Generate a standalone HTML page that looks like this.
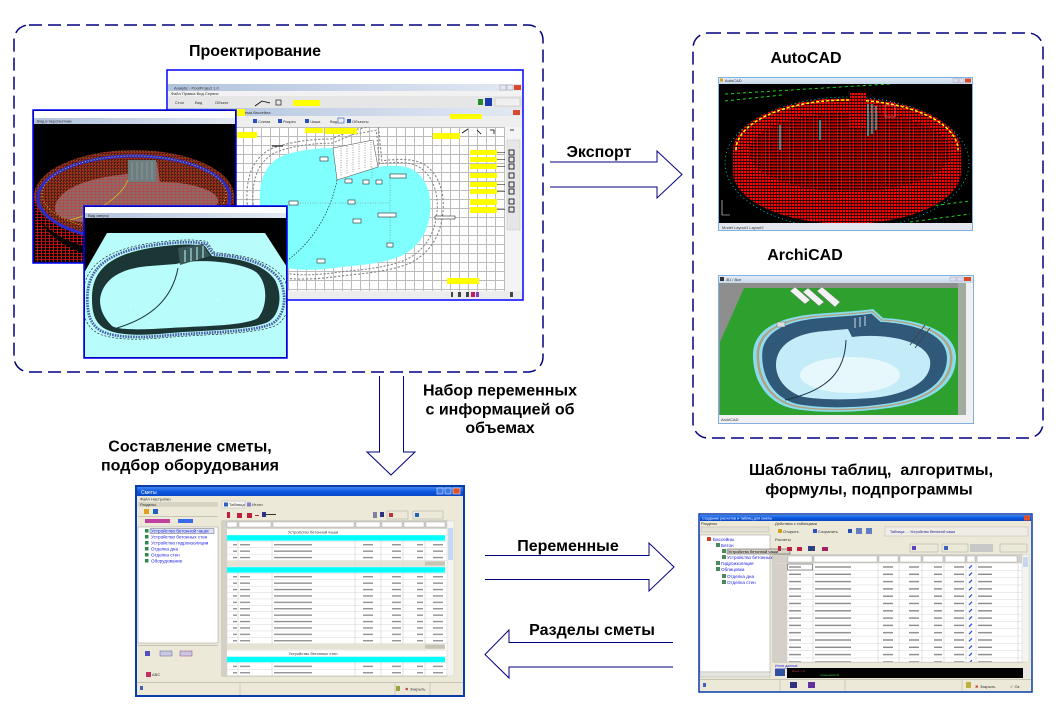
<!DOCTYPE html>
<html><head><meta charset="utf-8"><title>diagram</title>
<style>
html,body{margin:0;padding:0;background:#fff;width:1058px;height:718px;overflow:hidden}
svg{display:block}
.t{font-family:"Liberation Sans","DejaVu Sans",sans-serif;font-weight:bold;font-size:16px;fill:#000}
.m{font-family:"Liberation Sans","DejaVu Sans",sans-serif;font-size:4px;fill:#333}
.b{font-family:"Liberation Sans","DejaVu Sans",sans-serif;font-size:4.6px;fill:#1a1ae6}
</style></head><body>
<svg xmlns="http://www.w3.org/2000/svg" width="1058" height="718" viewBox="0 0 1058 718">
<defs>
<linearGradient id="tbG" x1="0" y1="0" x2="1" y2="0"><stop offset="0" stop-color="#b0c2dc"/><stop offset="1" stop-color="#e2e9f4"/></linearGradient>
<linearGradient id="tbG2" x1="0" y1="0" x2="0" y2="1"><stop offset="0" stop-color="#e8f0f8"/><stop offset="1" stop-color="#c8d8ea"/></linearGradient>
<linearGradient id="tbB" x1="0" y1="0" x2="0" y2="1"><stop offset="0" stop-color="#3f86f2"/><stop offset=".5" stop-color="#0c58e0"/><stop offset="1" stop-color="#0946c4"/></linearGradient>
<pattern id="grid" patternUnits="userSpaceOnUse" x="0" y="127" width="9" height="9"><path d="M0.5,0V9M0,0.5H9" stroke="#bcbcbc" stroke-width="1" fill="none"/></pattern>
<pattern id="rt" patternUnits="userSpaceOnUse" width="3" height="3"><rect width="3" height="3" fill="#f00"/><path d="M0,2.6H3M2.6,0V3" stroke="#000" stroke-width=".7"/></pattern>
<pattern id="rt2" patternUnits="userSpaceOnUse" width="4" height="3"><rect width="4" height="3" fill="#000"/><path d="M0,1.5H4M1.5,0V3" stroke="#e01010" stroke-width=".8"/></pattern>
<pattern id="bt" patternUnits="userSpaceOnUse" width="4" height="3"><rect width="4" height="3" fill="#8c6a68"/><path d="M0,2.6H4M3.6,0V3" stroke="#c04040" stroke-width=".6"/></pattern>
<pattern id="brk" patternUnits="userSpaceOnUse" width="3" height="3"><rect width="3" height="3" fill="#4a1a14"/><path d="M0,2.5H3M2.5,0V3" stroke="#c03020" stroke-width=".6"/><rect x="1" y="1" width=".6" height=".6" fill="#d0c020"/></pattern>
<pattern id="eRows" patternUnits="userSpaceOnUse" x="222" y="528.8" width="225" height="6.4">
 <rect width="225" height="6.4" fill="#fff"/>
 <path d="M0,6.2H225" stroke="#d6d6d6" stroke-width=".5"/>
 <path d="M5,0V6.4M16,0V6.4M50,0V6.4M133,0V6.4M159,0V6.4M181,0V6.4M203,0V6.4" stroke="#c8c8c8" stroke-width=".5"/>
 <rect x="0" y="0" width="5" height="6.4" fill="#d4d0c8"/>
 <rect x="11" y="2.5" width="4" height="1.3" fill="#8a8a8a"/>
 <rect x="18" y="2.5" width="10" height="1.3" fill="#8a8a8a"/>
 <rect x="52" y="2.5" width="38" height="1.3" fill="#8a8a8a"/>
 <rect x="141" y="2.5" width="10" height="1.3" fill="#8a8a8a"/>
 <rect x="170" y="2.5" width="9" height="1.3" fill="#8a8a8a"/>
 <rect x="195" y="2.5" width="6" height="1.3" fill="#8a8a8a"/>
 <rect x="211" y="2.5" width="10" height="1.3" fill="#8a8a8a"/>
</pattern>
<pattern id="tRows" patternUnits="userSpaceOnUse" x="773" y="563.3" width="250" height="7.3">
 <rect width="250" height="7.3" fill="#fff"/>
 <path d="M0,7.1H250" stroke="#d6d6d6" stroke-width=".5"/>
 <path d="M14,0V7.3M40,0V7.3M105,0V7.3M126,0V7.3M149,0V7.3M171,0V7.3M193,0V7.3M203,0V7.3M245,0V7.3" stroke="#c8c8c8" stroke-width=".5"/>
 <rect x="0" y="0" width="14" height="7.3" fill="#d4d0c8"/>
 <rect x="16" y="3" width="12" height="1.4" fill="#8a8a8a"/>
 <rect x="42" y="3" width="36" height="1.4" fill="#8a8a8a"/>
 <rect x="110" y="3" width="10" height="1.4" fill="#8a8a8a"/>
 <rect x="136" y="3" width="10" height="1.4" fill="#8a8a8a"/>
 <rect x="161" y="3" width="8" height="1.4" fill="#8a8a8a"/>
 <rect x="181" y="3" width="10" height="1.4" fill="#8a8a8a"/>
 <path d="M196,5L199,2" stroke="#2040e0" stroke-width="1.2"/>
 <rect x="205" y="3" width="14" height="1.4" fill="#8a8a8a"/>
</pattern>
<clipPath id="acClip"><rect x="719" y="84" width="253" height="139"/></clipPath>
<clipPath id="dkClip"><rect x="34" y="124" width="201" height="138"/></clipPath>
<clipPath id="ltClip"><rect x="85" y="218" width="201" height="139"/></clipPath>
<clipPath id="mcClip"><rect x="168" y="127" width="337" height="164"/></clipPath>
</defs>

<!-- dashed group boxes -->
<rect x="14" y="25" width="529" height="347" rx="15" fill="none" stroke="#000080" stroke-width="1.5" stroke-dasharray="13 6"/>
<rect x="693" y="33" width="350" height="405" rx="15" fill="none" stroke="#000080" stroke-width="1.5" stroke-dasharray="13 6"/>

<!-- ========== MAIN CAD WINDOW ========== -->
<g>
<rect x="167" y="70" width="356" height="230" fill="#fff"/>
<rect x="168" y="84" width="354" height="7" fill="url(#tbG)"/>
<text class="m" x="174" y="89.5">Analytic - PoolProject 1.0</text>
<rect x="500" y="85" width="6" height="5" fill="#e4e8f0" stroke="#889" stroke-width=".4"/>
<rect x="507" y="85" width="6" height="5" fill="#e4e8f0" stroke="#889" stroke-width=".4"/>
<rect x="514" y="85" width="7" height="5" fill="#d84a2a"/>
<rect x="168" y="91" width="354" height="5" fill="#f2f2f2"/>
<text class="m" x="171" y="95" font-size="3.5">Файл  Правка  Вид  Сервис</text>
<rect x="168" y="96" width="354" height="12" fill="#e6e6e6"/>
<text class="m" x="175" y="104">Стол</text><text class="m" x="195" y="104">Вид</text><text class="m" x="215" y="104">Объект</text>
<path d="M255,106 L262,101 L270,103" stroke="#000" stroke-width=".8" fill="none"/>
<rect x="276" y="100" width="5" height="5" fill="none" stroke="#000" stroke-width=".6"/>
<rect x="293" y="100" width="27" height="6" fill="#ffff00"/>
<rect x="478" y="99" width="5" height="6" fill="#2a8a2a"/><rect x="485" y="98" width="7" height="8" fill="#1a3ab0"/>
<rect x="495" y="98" width="25" height="8" fill="#f0f0f0" stroke="#aaa" stroke-width=".4"/>
<rect x="168" y="108" width="354" height="8" fill="url(#tbG)"/>
<text class="m" x="240" y="114">Схема бассейна</text>
<rect x="513" y="110" width="7" height="5" fill="#d84a2a"/>
<rect x="168" y="116" width="354" height="11" fill="#eeeeee"/>
<rect x="253" y="119" width="4" height="4" fill="#2850c0"/><text class="m" x="258" y="123">Схема</text>
<rect x="278" y="119" width="4" height="4" fill="#2850c0"/><text class="m" x="283" y="123">Разрез</text>
<rect x="305" y="119" width="4" height="4" fill="#2850c0"/><text class="m" x="310" y="123">Чаша</text>
<text class="m" x="330" y="123">Вид</text><rect x="338" y="118" width="6" height="5" fill="none" stroke="#2850c0" stroke-width=".6"/>
<rect x="347" y="119" width="4" height="4" fill="#2850c0"/><text class="m" x="352" y="123">Объекты</text>
<rect x="218" y="109" width="27" height="7" fill="#ffff00"/>
<rect x="168" y="127" width="337" height="164" fill="url(#grid)"/>
<g clip-path="url(#mcClip)">
<g fill="none" stroke="#8a8a8a" stroke-width="1" stroke-dasharray="2 1.5">
<path transform="translate(345,208) scale(1.08) translate(-345,-208)" d="M260,205 C258,180 266,163 282,156 C298,150 318,148 333,148 L352,140 L374,136 L377,167 C392,165 407,165 415,171 C428,180 432,198 430,213 C428,233 418,248 401,256 C385,263 362,265 342,267 C322,270 302,271 287,268 C268,262 262,232 260,205 Z"/>
<path transform="translate(345,208) scale(1.15) translate(-345,-208)" d="M260,205 C258,180 266,163 282,156 C298,150 318,148 333,148 L352,140 L374,136 L377,167 C392,165 407,165 415,171 C428,180 432,198 430,213 C428,233 418,248 401,256 C385,263 362,265 342,267 C322,270 302,271 287,268 C268,262 262,232 260,205 Z"/>
</g>
<path d="M260,205 C258,180 266,163 282,156 C298,150 318,148 333,148 L337,180 L377,167 C392,165 407,165 415,171 C428,180 432,198 430,213 C428,233 418,248 401,256 C385,263 362,265 342,267 C322,270 302,271 287,268 C268,262 262,232 260,205 Z" fill="#80ffff"/>
<polygon points="333,148 373,140 378,167 337,180" fill="#fff" stroke="#444" stroke-width=".5"/>
<g stroke="#333" stroke-width=".6" stroke-dasharray=".8 1.6"><path d="M341,148V176M347,146V174M353,145V172M359,144V170M365,143V169M371,142V168"/></g>
<path d="M337,180 C330,215 310,245 285,262" stroke="#000" stroke-width=".6" stroke-dasharray="1.5 1.5" fill="none"/>
<path d="M290,203H390M372,167V180M390,175V245" stroke="#666" stroke-width=".5" stroke-dasharray="1 1.5" fill="none"/>
<g fill="#fff" stroke="#000" stroke-width=".5">
<rect x="320" y="157" width="8" height="4"/><rect x="345" y="179" width="7" height="4"/><rect x="363" y="180" width="6" height="4"/><rect x="376" y="180" width="6" height="4"/>
<rect x="390" y="174" width="16" height="4"/><rect x="289" y="201" width="9" height="4"/><rect x="348" y="200" width="7" height="4"/>
<rect x="378" y="213" width="18" height="4"/><rect x="353" y="219" width="8" height="4"/><rect x="387" y="243" width="6" height="4"/><rect x="317" y="259" width="8" height="4"/>
<rect x="435" y="216" width="20" height="3"/>
</g>
<path d="M272,146H283" stroke="#000" stroke-width="1"/>
</g>
<g fill="#ffff00">
<rect x="237" y="132" width="20" height="6"/><rect x="305" y="128" width="18" height="5"/><rect x="325" y="128" width="32" height="6"/>
<rect x="450" y="114" width="32" height="5"/><rect x="433" y="133" width="27" height="6"/>
<rect x="470" y="150" width="27" height="5"/><rect x="470" y="157" width="27" height="5"/><rect x="470" y="164" width="27" height="5"/><rect x="470" y="173" width="27" height="5"/>
<rect x="470" y="182" width="27" height="5"/><rect x="470" y="189" width="27" height="5"/><rect x="470" y="199" width="27" height="6"/><rect x="470" y="207" width="27" height="6"/>
<rect x="447" y="278" width="32" height="6"/>
</g>
<g stroke="#000" stroke-width=".5">
<path d="M497,152.5H509M497,159.5H509M497,166.5H509M497,184.5H509M497,191.5H509M497,209.5H509"/>
</g>
<rect x="505" y="127" width="17" height="164" fill="#f4f4f4"/>
<rect x="507" y="140" width="13" height="90" fill="#e6e6e6" stroke="#bbb" stroke-width=".4"/>
<g fill="none" stroke="#000" stroke-width=".8">
<rect x="509" y="150" width="5" height="5"/><rect x="509" y="157" width="5" height="5"/><rect x="509" y="164" width="5" height="5"/><rect x="509" y="173" width="5" height="5"/>
<rect x="509" y="182" width="5" height="5"/><rect x="509" y="189" width="5" height="5"/><rect x="509" y="199" width="5" height="5"/><rect x="509" y="207" width="5" height="5"/>
<path d="M462,133l6,-4 M477,130l4,4 M490,130h4v4 M510,130h4"/>
</g>
<rect x="168" y="291" width="354" height="8" fill="#ececec"/>
<g fill="#444"><rect x="451" y="292" width="2" height="5"/><rect x="458" y="292" width="3" height="5"/><rect x="466" y="292" width="3" height="5"/><rect x="471" y="292" width="4" height="5" fill="#c02060"/><rect x="476" y="292" width="3" height="5" fill="#8040c0"/><rect x="510" y="292" width="3" height="5"/></g>
<rect x="167" y="70" width="356" height="230" fill="none" stroke="#0000ff" stroke-width="1.5"/>
</g>

<!-- ========== DARK 3D WINDOW ========== -->
<g>
<rect x="33" y="110" width="203" height="153" fill="#000"/>
<rect x="34" y="111" width="201" height="7" fill="#fff"/>
<rect x="34" y="118" width="201" height="6" fill="url(#tbG)"/>
<text class="m" x="37" y="122.5" font-size="3.5">Вид в перспективе</text>
<g clip-path="url(#dkClip)">
<path d="M35,205 C40,235 70,252 110,262 L35,262 Z" fill="url(#rt2)"/>
<ellipse cx="134" cy="203" rx="100" ry="50" fill="url(#rt2)"/>
<ellipse cx="134" cy="196" rx="100" ry="46" fill="url(#brk)"/>
<ellipse cx="134" cy="198" rx="96" ry="42" fill="none" stroke="#2a2ad0" stroke-width="3"/>
<ellipse cx="134" cy="194" rx="92" ry="38" fill="none" stroke="#d0c020" stroke-width="1" stroke-dasharray="1 2"/>
<path d="M55,210 C55,190 85,178 128,174 L135,162 L157,162 L160,182 C195,182 220,192 218,202 C215,215 180,222 140,224 C95,226 57,222 55,210 Z" fill="url(#bt)"/>
<rect x="128" y="160" width="28" height="22" fill="#6e7e80"/>
<path d="M132,162V180M137,162V180M142,162V180M147,162V180M152,162V180" stroke="#909c9c" stroke-width=".8"/>
<path d="M128,180 C120,200 90,215 70,220" stroke="#d0c020" stroke-width=".8" fill="none"/>
</g>
<rect x="33" y="110" width="203" height="153" fill="none" stroke="#0000ff" stroke-width="1.5"/>
</g>

<!-- ========== LIGHT POOL WINDOW ========== -->
<g>
<rect x="84" y="206" width="203" height="152" fill="#000"/>
<rect x="85" y="207" width="201" height="6" fill="#fff"/>
<rect x="85" y="213" width="201" height="5" fill="url(#tbG)"/>
<text class="m" x="88" y="217" font-size="3.5">Вид сверху</text>
<g clip-path="url(#ltClip)">
<polygon points="107,233 265,233 287,267 287,358 84,358 84,273" fill="#b8fcfc"/>
<path transform="translate(185,290) scale(1.1) translate(-185,-290)" d="M92,298 C92,270 110,255 150,248 C170,245 190,243 205,246 L212,256 C235,258 262,262 275,280 C283,295 280,315 268,322 C250,330 210,330 170,333 C140,336 110,336 100,325 C93,318 92,308 92,298 Z" fill="none" stroke="#222" stroke-width=".6" stroke-dasharray="2 1.5"/>
<path transform="translate(185,290) scale(1.05) translate(-185,-290)" d="M92,298 C92,270 110,255 150,248 C170,245 190,243 205,246 L212,256 C235,258 262,262 275,280 C283,295 280,315 268,322 C250,330 210,330 170,333 C140,336 110,336 100,325 C93,318 92,308 92,298 Z" fill="none" stroke="#4a5aa0" stroke-width="2.6" stroke-dasharray="1.5 1"/>
<path d="M92,298 C92,270 110,255 150,248 C170,245 190,243 205,246 L212,256 C235,258 262,262 275,280 C283,295 280,315 268,322 C250,330 210,330 170,333 C140,336 110,336 100,325 C93,318 92,308 92,298 Z" fill="#1c3636"/>
<path d="M100,300 C102,280 120,268 150,266 L176,264 C200,258 240,262 256,272 C268,282 268,306 258,318 C245,326 200,326 170,328 C140,330 118,330 112,326 C104,318 100,310 100,300 Z" fill="#b8fcfc"/>
<polygon points="178,248 203,244 210,256 180,265" fill="#3a5656"/>
<path d="M185,250V262M191,248V261M197,247V260M203,246V258" stroke="#b8fcfc" stroke-width="1"/>
<path d="M117,328 C150,318 172,300 178,268" stroke="#1c3636" stroke-width="1" fill="none"/>
<g fill="#fff"><rect x="130" y="305" width="1" height="1"/><rect x="217" y="300" width="1" height="1"/><rect x="200" y="320" width="1" height="1"/><rect x="150" y="322" width="1" height="1"/></g>
</g>
<rect x="84" y="206" width="203" height="152" fill="none" stroke="#0000ff" stroke-width="1.5"/>
</g>

<!-- ========== AUTOCAD ========== -->
<g>
<rect x="718" y="77" width="255" height="154" fill="#000"/>
<rect x="718" y="77" width="255" height="7" fill="url(#tbG2)"/>
<rect x="720" y="78.5" width="3" height="3" fill="#e0a020"/>
<text class="m" x="725" y="82" font-size="3.5">AutoCAD</text>
<rect x="953" y="78.5" width="5" height="4" fill="#dde" stroke="#889" stroke-width=".3"/><rect x="959" y="78.5" width="5" height="4" fill="#dde" stroke="#889" stroke-width=".3"/><rect x="965" y="78.5" width="6" height="4" fill="#d84a2a"/>
<g clip-path="url(#acClip)">
<path d="M725,94 L890,84 M725,101 L782,95 M870,214 L970,201 M910,222 L970,214" stroke="#20d020" stroke-width="1" stroke-dasharray="3 3"/>
<ellipse cx="847" cy="163" rx="122" ry="66" fill="none" stroke="#00e0e0" stroke-width=".8" stroke-dasharray="1 3"/>
<ellipse cx="847" cy="172" rx="114" ry="52" fill="url(#rt)"/>
<rect x="733" y="150" width="228" height="22" fill="url(#rt)"/>
<ellipse cx="847" cy="150" rx="114" ry="52" fill="url(#rt)"/>
<ellipse cx="850" cy="152" rx="101" ry="40" fill="url(#rt2)" opacity=".5"/>
<path d="M736,150 A111,50 0 0 1 958,150" stroke="#ffff00" stroke-width="1.5" stroke-dasharray="3 2" fill="none"/>
<rect x="850" y="93" width="16" height="35" fill="url(#rt)"/>
<path d="M868,104V136M872,104V134M876,106V130M820,120V140M780,125V150" stroke="#00f0f0" stroke-width="1.2"/>
<rect x="885" y="105" width="10" height="12" fill="none" stroke="#ff8080" stroke-width=".6"/>
<path d="M722,200V215H730" stroke="#fff" stroke-width=".6" fill="none"/>
</g>
<rect x="718" y="223" width="255" height="8" fill="#e4e8ee"/>
<text class="m" x="722" y="229" font-size="3">Model  Layout1  Layout2</text>
<rect x="718.5" y="77.5" width="254" height="153" fill="none" stroke="#80b0e0" stroke-width="1"/>
</g>

<!-- ========== ARCHICAD ========== -->
<g>
<rect x="718" y="275" width="256" height="149" fill="#8e8e8e"/>
<rect x="718" y="275" width="256" height="8" fill="url(#tbG2)"/>
<rect x="720" y="277" width="4" height="4" fill="#333"/>
<text class="m" x="726" y="281" font-size="3.5">3D / Все</text>
<rect x="950" y="277" width="6" height="4" fill="#dde" stroke="#889" stroke-width=".3"/><rect x="957" y="277" width="6" height="4" fill="#dde" stroke="#889" stroke-width=".3"/><rect x="964" y="277" width="7" height="4" fill="#d84a2a"/>
<polygon points="744,288 958,288 958,415 720,415 720,342" fill="#2ea02e"/>
<rect x="958" y="283" width="8" height="132" fill="#a0aca0"/>
<rect x="966" y="283" width="7" height="132" fill="#f0f0f0"/>
<g fill="#f2f2f2" stroke="#777" stroke-width=".5">
<polygon points="790,291 795,287 810,300 805,304"/>
<polygon points="803,292 808,288 824,302 819,306"/>
<polygon points="817,291 822,287 840,302 835,307"/>
</g>
<path d="M753,355 C753,333 772,318 815,314 C840,312 860,311 873,309 L883,318 C925,320 955,333 956,356 C957,382 935,400 895,407 C865,412 825,414 795,409 C768,404 753,382 753,355 Z" fill="#88dcee"/>
<path transform="translate(855,361) scale(.965) translate(-855,-361)" d="M753,355 C753,333 772,318 815,314 C840,312 860,311 873,309 L883,318 C925,320 955,333 956,356 C957,382 935,400 895,407 C865,412 825,414 795,409 C768,404 753,382 753,355 Z" fill="#b4a07c"/>
<path transform="translate(855,361) scale(.94) translate(-855,-361)" d="M753,355 C753,333 772,318 815,314 C840,312 860,311 873,309 L883,318 C925,320 955,333 956,356 C957,382 935,400 895,407 C865,412 825,414 795,409 C768,404 753,382 753,355 Z" fill="#90dcf0"/>
<path transform="translate(855,361) scale(.91) translate(-855,-361)" d="M753,355 C753,333 772,318 815,314 C840,312 860,311 873,309 L883,318 C925,320 955,333 956,356 C957,382 935,400 895,407 C865,412 825,414 795,409 C768,404 753,382 753,355 Z" fill="#305878"/>
<path d="M776,365 C776,345 795,333 825,331 L848,329 L852,337 C885,333 925,340 930,360 C933,382 905,395 872,398 C845,400 815,400 800,396 C785,390 776,378 776,365 Z" fill="#c4ecf8"/>
<ellipse cx="850" cy="375" rx="50" ry="18" fill="#e6f8fc"/>
<path d="M785,400 C830,390 845,370 846,340" stroke="#1c3448" stroke-width="1" fill="none"/>
<path d="M910,345 L925,325 M915,348 L930,328" stroke="#444" stroke-width="1"/>
<path d="M855,318V328M860,317V327M865,316V326" stroke="#cde" stroke-width="1"/>
<rect x="777" y="322" width="8" height="5" fill="#ddd" stroke="#555" stroke-width=".4"/>
<rect x="718" y="415" width="256" height="9" fill="#f0f0f0"/>
<text class="m" x="721" y="421" font-size="3">ArchiCAD</text>
<rect x="718.5" y="275.5" width="255" height="148" fill="none" stroke="#80b0e0" stroke-width="1"/>
</g>

<!-- ========== ESTIMATE WINDOW ========== -->
<g>
<rect x="136" y="486" width="328" height="210" fill="#ece9d8"/>
<rect x="137" y="487" width="326" height="9" fill="url(#tbB)"/>
<text x="141" y="494" font-size="5" fill="#fff" font-family="Liberation Sans,sans-serif">Сметы</text>
<rect x="437" y="488" width="6" height="6" fill="#3a7ae8" stroke="#fff" stroke-width=".5"/>
<rect x="445" y="488" width="6" height="6" fill="#3a7ae8" stroke="#fff" stroke-width=".5"/>
<rect x="453" y="488" width="7" height="6" fill="#e0502a" stroke="#fff" stroke-width=".5"/>
<text class="m" x="140" y="500.5" font-size="3.5">Файл  Настройки</text>
<rect x="138" y="502" width="80" height="5" fill="#d8d4c4"/>
<text class="m" x="140" y="506" font-size="3.5">Разделы</text>
<rect x="144" y="509" width="5" height="5" fill="#e0a020"/><rect x="153" y="509" width="5" height="5" fill="#2060c0"/>
<rect x="138" y="516" width="80" height=".6" fill="#b0ac9c"/>
<rect x="145" y="519" width="25" height="4" fill="#c040a0"/>
<rect x="178" y="519" width="15" height="4" fill="#3a6ae8"/>
<rect x="138" y="527" width="80" height="116" fill="#fff" stroke="#9a9a9a" stroke-width=".5"/>
<rect x="150" y="528.8" width="64" height="4.6" fill="#dde4f8" stroke="#334" stroke-width=".4"/>
<g fill="#2a8a4a"><rect x="145" y="529" width="3.5" height="3.5"/><rect x="145" y="535" width="3.5" height="3.5"/><rect x="145" y="541" width="3.5" height="3.5"/><rect x="145" y="547" width="3.5" height="3.5"/><rect x="145" y="553" width="3.5" height="3.5"/><rect x="145" y="559" width="3.5" height="3.5"/></g>
<text class="b" x="151" y="532.6">Устройство бетонной чаши</text>
<text class="b" x="151" y="538.6">Устройство бетонных стен</text>
<text class="b" x="151" y="544.6">Устройство гидроизоляции</text>
<text class="b" x="151" y="550.6">Отделка дна</text>
<text class="b" x="151" y="556.6">Отделка стен</text>
<text class="b" x="151" y="562.6">Оборудование</text>
<rect x="138" y="645" width="80" height=".6" fill="#b0ac9c"/>
<rect x="145" y="651" width="5" height="5" fill="#5050c0"/><rect x="160" y="651" width="12" height="5" fill="#c8c8e0" stroke="#6060a0" stroke-width=".5"/><rect x="180" y="651" width="12" height="5" fill="#c8c8e0" stroke="#a04080" stroke-width=".5"/>
<rect x="146" y="672" width="5" height="5" fill="#c03060"/><text class="m" x="152" y="676">ABC</text>
<rect x="222" y="501" width="23" height="7" fill="#f6f4ee" stroke="#aaa" stroke-width=".4"/>
<rect x="224" y="502.5" width="4" height="4" fill="#3060c0"/><text class="m" x="229" y="506" font-size="3.5">Таблица</text>
<rect x="247" y="502.5" width="4" height="4" fill="#8080d0"/><text class="m" x="252" y="506" font-size="3.5">Итоги</text>
<g fill="#c02040"><rect x="227" y="512" width="3" height="6"/><rect x="237" y="513" width="5" height="5"/><rect x="247" y="513" width="5" height="5"/><rect x="255" y="515" width="4" height="1"/></g>
<rect x="262" y="512" width="4" height="5" fill="#303080"/><rect x="266" y="514" width="10" height="1" fill="#333"/>
<rect x="373" y="512" width="4" height="6" fill="#8080a0"/><rect x="380" y="512" width="4" height="5" fill="#303080"/>
<rect x="387" y="511" width="21" height="8" fill="none" stroke="#999" stroke-width=".4"/><rect x="389" y="513" width="4" height="4" fill="#c03030"/>
<rect x="413" y="511" width="30" height="8" fill="none" stroke="#999" stroke-width=".4"/><rect x="415" y="513" width="4" height="4" fill="#2060c0"/>
<rect x="222" y="521" width="225" height="155" fill="#fff" stroke="#888" stroke-width=".5"/>
<rect x="222" y="528.8" width="225" height="147" fill="url(#eRows)"/>
<rect x="222" y="521" width="225" height="7.8" fill="#d4d0c8"/>
<g fill="#fff" stroke="#888" stroke-width=".3"><rect x="227" y="522" width="10" height="5"/><rect x="239" y="522" width="32" height="5"/><rect x="273" y="522" width="81" height="5"/><rect x="356" y="522" width="24" height="5"/><rect x="382" y="522" width="20" height="5"/><rect x="404" y="522" width="20" height="5"/><rect x="426" y="522" width="19" height="5"/></g>
<rect x="227" y="529" width="218" height="6" fill="#fff"/>
<text class="m" x="313" y="533.5" text-anchor="middle" font-size="3.5">Устройство бетонной чаши</text>
<rect x="227" y="535.2" width="218" height="5.4" fill="#00ffff"/>
<rect x="227" y="560.8" width="218" height="5.6" fill="#e6e2d4"/>
<rect x="425" y="561.5" width="20" height="4" fill="#c8c4b4"/>
<rect x="227" y="567.2" width="218" height="5.4" fill="#00ffff"/>
<rect x="227" y="644" width="218" height="5.6" fill="#e6e2d4"/>
<rect x="425" y="644.7" width="20" height="4" fill="#c8c4b4"/>
<rect x="227" y="650.4" width="218" height="6" fill="#fff"/>
<text class="m" x="313" y="655" text-anchor="middle" font-size="3.5">Устройство бетонных стен</text>
<rect x="227" y="656.8" width="218" height="5.4" fill="#00ffff"/>
<rect x="447" y="521" width="7" height="155" fill="#f4f4f0" stroke="#bbb" stroke-width=".3"/>
<rect x="448" y="528" width="5" height="32" fill="#c8d8f0"/>
<rect x="137" y="682" width="326" height=".6" fill="#b0ac9c"/>
<path d="M240,683V695M395,683V695M430,683V695" stroke="#b0ac9c" stroke-width=".5"/>
<rect x="140" y="686" width="3" height="4" fill="#4060c0"/>
<rect x="396" y="686" width="4" height="5" fill="#a0a040"/>
<text x="405" y="690.5" font-size="4" fill="#c02020" font-family="Liberation Sans,sans-serif">✖</text><text class="m" x="410" y="690.5">Закрыть</text>
<rect x="136" y="486" width="328" height="210" fill="none" stroke="#0a3ca8" stroke-width="2"/>
</g>

<!-- ========== TEMPLATES WINDOW ========== -->
<g>
<rect x="699" y="514" width="333" height="178" fill="#ece9d8"/>
<rect x="700" y="515" width="331" height="6" fill="url(#tbB)"/>
<text x="702" y="519.5" font-size="3.8" fill="#fff" font-family="Liberation Sans,sans-serif">Создание расчетов и таблиц для сметы</text>
<rect x="1024" y="515.5" width="6" height="5" fill="#e0502a"/>
<text class="m" x="701" y="525" font-size="3.2">Разделы</text>
<rect x="701" y="527" width="68" height="5" fill="#e4e1d4" stroke="#aaa" stroke-width=".4"/>
<rect x="700" y="535" width="70" height="137" fill="#fff" stroke="#9a9a9a" stroke-width=".5"/>
<rect x="707" y="537" width="4" height="4" fill="#d04020"/>
<g fill="#4a8a5a"><rect x="716" y="543" width="4" height="4"/><rect x="722" y="549" width="4" height="4"/><rect x="722" y="555" width="4" height="4"/><rect x="716" y="561" width="4" height="4"/><rect x="716" y="567" width="4" height="4"/><rect x="722" y="574" width="4" height="4"/><rect x="722" y="580" width="4" height="4"/></g>
<text class="b" x="713" y="541" font-size="4">Бассейны</text>
<text class="b" x="721" y="547" font-size="4">Бетон</text>
<rect x="727" y="549" width="63" height="5" fill="#d8d4c8" stroke="#222" stroke-width=".4"/>
<text x="728" y="553" font-size="4" fill="#000" font-family="Liberation Sans,sans-serif">Устройство бетонной чаши</text>
<text class="b" x="727" y="559" font-size="4">Устройство бетонных</text>
<text class="b" x="721" y="565" font-size="4">Гидроизоляция</text>
<text class="b" x="721" y="571" font-size="4">Облицовка</text>
<text class="b" x="727" y="578" font-size="4">Отделка дна</text>
<text class="b" x="727" y="584" font-size="4">Отделка стен</text>
<rect x="700" y="672" width="70" height="5" fill="#e4e4e0" stroke="#aaa" stroke-width=".4"/>
<text class="m" x="775" y="525" font-size="3.2">Действия с таблицами</text>
<rect x="778" y="529" width="4" height="4" fill="#d0a020"/><text class="m" x="783" y="533" font-size="3.5">Открыть</text>
<rect x="813" y="529" width="4" height="4" fill="#3050c0"/><text class="m" x="818" y="533" font-size="3.5">Сохранить</text>
<rect x="848" y="529" width="4" height="4" fill="#2050b0"/><rect x="856" y="528" width="6" height="6" fill="#6080c0"/><rect x="866" y="528" width="6" height="6" fill="#6080c0"/>
<rect x="885" y="527" width="143" height="9" fill="#f0eee4" stroke="#aaa" stroke-width=".4"/>
<text x="890" y="533" font-size="3.6" fill="#1a1a9a" font-family="Liberation Sans,sans-serif">Таблица: ... Устройство бетонной чаши</text>
<text class="m" x="775" y="541" font-size="3.2">Расчеты</text>
<g fill="#c02040"><rect x="778" y="546" width="3" height="5"/><rect x="787" y="547" width="5" height="4"/><rect x="797" y="547" width="5" height="4"/></g>
<rect x="808" y="546" width="7" height="5" fill="#304080"/><rect x="822" y="547" width="6" height="4" fill="#a02060"/>
<rect x="910" y="544" width="28" height="8" fill="none" stroke="#999" stroke-width=".4"/><rect x="912" y="546" width="4" height="4" fill="#6040c0"/>
<rect x="942" y="544" width="26" height="8" fill="none" stroke="#999" stroke-width=".4"/><rect x="944" y="546" width="4" height="4" fill="#4060c0"/>
<rect x="970" y="544" width="23" height="8" fill="#c8c8c8"/>
<rect x="1000" y="544" width="27" height="8" fill="none" stroke="#999" stroke-width=".4"/>
<rect x="773" y="555" width="250" height="107" fill="#fff" stroke="#888" stroke-width=".5"/>
<rect x="773" y="563.3" width="250" height="98.5" fill="url(#tRows)"/>
<rect x="773" y="555" width="250" height="8.3" fill="#d4d0c8"/>
<g fill="#fff" stroke="#888" stroke-width=".3"><rect x="788" y="556" width="24" height="6"/><rect x="814" y="556" width="63" height="6"/><rect x="879" y="556" width="19" height="6"/><rect x="900" y="556" width="21" height="6"/><rect x="923" y="556" width="20" height="6"/><rect x="945" y="556" width="20" height="6"/><rect x="967" y="556" width="8" height="6"/><rect x="977" y="556" width="40" height="6"/></g>
<rect x="787.5" y="564" width="25" height="6" fill="none" stroke="#333" stroke-width=".5"/>
<rect x="1022" y="555" width="7" height="107" fill="#f4f4f0" stroke="#bbb" stroke-width=".3"/>
<rect x="1023" y="557" width="5" height="10" fill="#c8d8f0"/>
<text x="775" y="667" font-size="3.5" fill="#1a1ae6" font-family="Liberation Sans,sans-serif" text-decoration="underline">Итоги данные</text>
<rect x="775" y="669" width="10" height="7" fill="#3050a0"/>
<rect x="787" y="668" width="236" height="10" fill="#000"/>
<text x="792" y="672" font-size="2.8" fill="#e04040" font-family="Liberation Sans,sans-serif">Итого := 0</text>
<text x="820" y="676" font-size="2.8" fill="#40c040" font-family="Liberation Sans,sans-serif">Сумма(К2:К12)</text>
<rect x="1023" y="668" width="6" height="10" fill="#e8e8e4"/>
<rect x="700" y="679" width="331" height=".6" fill="#b0ac9c"/>
<path d="M780,680V691M845,680V691M962,680V691" stroke="#b0ac9c" stroke-width=".5"/>
<rect x="703" y="683" width="3" height="4" fill="#4060c0"/>
<rect x="790" y="682" width="7" height="6" fill="#303080"/><rect x="808" y="682" width="7" height="6" fill="#6030a0"/>
<rect x="966" y="682" width="5" height="6" fill="#c0b040"/>
<text x="975" y="688" font-size="4" fill="#c02020" font-family="Liberation Sans,sans-serif">✖</text><text class="m" x="980" y="688">Закрыть</text>
<text class="m" x="1010" y="688" fill="#2040c0">✓ Ок</text>
<rect x="699" y="514" width="333" height="178" fill="none" stroke="#0a3ca8" stroke-width="1.5"/>
</g>

<!-- ========== ARROWS ========== -->
<g fill="#fff" stroke="#000080" stroke-width="1">
<path d="M550,162 H657 V151 L682,174.5 L657,198 V187 H550"/>
<path d="M379.5,376 V452 H367 L391,475 L415,452 H403.5 V376"/>
<path d="M485,555.5 H649 V543 L674,567 L649,591 V579.5 H485"/>
<path d="M673,642.5 H509 V630 L485,654.5 L509,678 V667 H673"/>
</g>

<!-- ========== LABELS ========== -->
<text class="t" x="255" y="56" text-anchor="middle">Проектирование</text>
<text class="t" x="806" y="63" text-anchor="middle">AutoCAD</text>
<text class="t" x="805" y="260" text-anchor="middle">ArchiCAD</text>
<text class="t" x="599" y="157" text-anchor="middle">Экспорт</text>
<text class="t" x="500" y="395.5" text-anchor="middle">Набор переменных</text>
<text class="t" x="500" y="414.5" text-anchor="middle">с информацией об</text>
<text class="t" x="500" y="433" text-anchor="middle">объемах</text>
<text class="t" x="190" y="451.5" text-anchor="middle">Составление сметы,</text>
<text class="t" x="190" y="470.5" text-anchor="middle">подбор оборудования</text>
<text class="t" x="871" y="475" text-anchor="middle" style="white-space:pre">Шаблоны таблиц,  алгоритмы,</text>
<text class="t" x="869" y="494.5" text-anchor="middle">формулы, подпрограммы</text>
<text class="t" x="568" y="551" text-anchor="middle">Переменные</text>
<text class="t" x="592" y="635" text-anchor="middle">Разделы сметы</text>
</svg>
</body></html>
